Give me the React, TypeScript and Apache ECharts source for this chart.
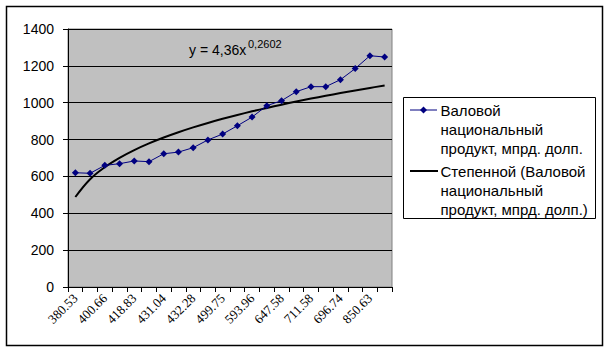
import React, { useEffect, useRef } from "react";
import * as echarts from "echarts";

// Category labels (odd ones are hidden by the axis label interval in the original)
const categories: string[] = [
  "380.53", "390.12", "400.66", "409.75", "418.83", "425.40", "431.04", "428.91",
  "432.28", "465.33", "499.75", "548.02", "593.96", "620.14", "647.58", "680.27",
  "711.58", "702.45", "696.74", "780.50", "850.63", "880.21",
];

// Валовой национальный продукт, мпрд. долп.
const gnpValues: number[] = [
  620, 617, 660, 669, 684, 680, 723, 732, 756, 798, 830,
  875, 922, 984, 1011, 1060, 1087, 1087, 1125, 1185, 1255, 1248,
];

const yTicks = { min: 0, max: 1400, interval: 200 };

const seriesName1 = "Валовой национальный продукт, мпрд. долп.";
const seriesName2 = "Степенной (Валовой национальный продукт, мпрд. долп.)";
const legendLines1 = ["Валовой", "национальный", "продукт, мпрд. долп."];
const legendLines2 = ["Степенной (Валовой", "национальный", "продукт, мпрд. долп.)"];
const equationMain = "y = 4,36x";
const equationExp = "0,2602";

// Power trend line fitted by least squares on ln(y) vs ln(index), like Excel does
function powerTrend(values: number[]): number[] {
  const n = values.length;
  let sx = 0, sy = 0, sxx = 0, sxy = 0;
  for (let i = 0; i < n; i++) {
    const lx = Math.log(i + 1);
    const ly = Math.log(values[i]);
    sx += lx; sy += ly; sxx += lx * lx; sxy += lx * ly;
  }
  const b = (n * sxy - sx * sy) / (n * sxx - sx * sx);
  const lnA = (sy - b * sx) / n;
  const a = Math.exp(lnA);
  return values.map((_, i) => Math.round(a * Math.pow(i + 1, b) * 10) / 10);
}

export default function App() {
  const ref = useRef<HTMLDivElement>(null);
  useEffect(() => {
    if (!ref.current) return;
    const chart = echarts.init(ref.current, undefined, { renderer: "svg" });
    const sans = "'Liberation Sans', Arial, sans-serif";
    const trend = powerTrend(gnpValues);
    chart.setOption({
      animation: false,
      backgroundColor: "#ffffff",
      grid: {
        left: 68,
        right: 217,
        top: 29,
        bottom: 66,
        show: true,
        backgroundColor: "#C0C0C0",
        borderColor: "#808080",
        borderWidth: 1,
      },
      xAxis: {
        type: "category",
        data: categories,
        boundaryGap: true,
        axisLine: { show: true, lineStyle: { color: "#000", width: 1 } },
        axisTick: { show: true, interval: 0, length: 5, lineStyle: { color: "#000" } },
        axisLabel: {
          interval: 1,
          rotate: 45,
          margin: 9,
          color: "#000",
          fontFamily: "'Liberation Serif', 'Times New Roman', serif",
          fontSize: 13,
        },
        splitLine: { show: false },
      },
      yAxis: {
        type: "value",
        min: yTicks.min,
        max: yTicks.max,
        interval: yTicks.interval,
        axisLine: { show: true, lineStyle: { color: "#000", width: 1 } },
        axisTick: { show: true, length: 5, lineStyle: { color: "#000" } },
        axisLabel: {
          color: "#000",
          fontFamily: sans,
          fontSize: 14,
          margin: 14,
          formatter: (v: number) => String(v),
        },
        splitLine: { show: true, lineStyle: { color: "#000", width: 1 } },
      },
      series: [
        {
          name: seriesName2,
          type: "line",
          data: trend,
          smooth: 0.4,
          showSymbol: false,
          symbol: "none",
          lineStyle: { color: "#000", width: 2 },
          z: 2,
        },
        {
          name: seriesName1,
          type: "line",
          data: gnpValues,
          symbol: "diamond",
          symbolSize: 7,
          itemStyle: { color: "#000080" },
          lineStyle: { color: "#000080", width: 1 },
          z: 3,
        },
      ],
      graphic: [
        {
          type: "rect",
          shape: { x: 6.5, y: 6.5, width: 596, height: 339 },
          style: { fill: "none", stroke: "#000", lineWidth: 1.5 },
          silent: true,
        },
        {
          type: "text",
          x: 189,
          y: 57,
          style: {
            text: equationMain,
            fontFamily: sans,
            fontSize: 14,
            fill: "#000",
            textVerticalAlign: "bottom",
          },
        },
        {
          type: "text",
          x: 248,
          y: 49,
          style: {
            text: equationExp,
            fontFamily: sans,
            fontSize: 11,
            fill: "#000",
            textVerticalAlign: "bottom",
          },
        },
        {
          type: "rect",
          shape: { x: 403.5, y: 97.5, width: 192, height: 121 },
          style: { fill: "#fff", stroke: "#000", lineWidth: 1 },
        },
        {
          type: "line",
          shape: { x1: 410, y1: 110, x2: 437, y2: 110 },
          style: { stroke: "#000080", lineWidth: 1 },
        },
        {
          type: "polygon",
          shape: { points: [[423.5, 106.5], [427, 110], [423.5, 113.5], [420, 110]] },
          style: { fill: "#000080" },
        },
        {
          type: "text",
          x: 440.5,
          y: 100.5,
          style: {
            text: legendLines1.join("\n"),
            fontFamily: sans,
            fontSize: 15,
            lineHeight: 19,
            fill: "#000",
            textVerticalAlign: "top",
          },
        },
        {
          type: "line",
          shape: { x1: 410, y1: 171, x2: 438, y2: 171 },
          style: { stroke: "#000", lineWidth: 2 },
        },
        {
          type: "text",
          x: 440.5,
          y: 161.5,
          style: {
            text: legendLines2.join("\n"),
            fontFamily: sans,
            fontSize: 15,
            lineHeight: 19,
            fill: "#000",
            textVerticalAlign: "top",
          },
        },
      ],
    });
    return () => chart.dispose();
  }, []);
  return (
    <div
      ref={ref}
      style={{ position: "absolute", left: 0, top: 0, width: 609, height: 353 }}
    />
  );
}
